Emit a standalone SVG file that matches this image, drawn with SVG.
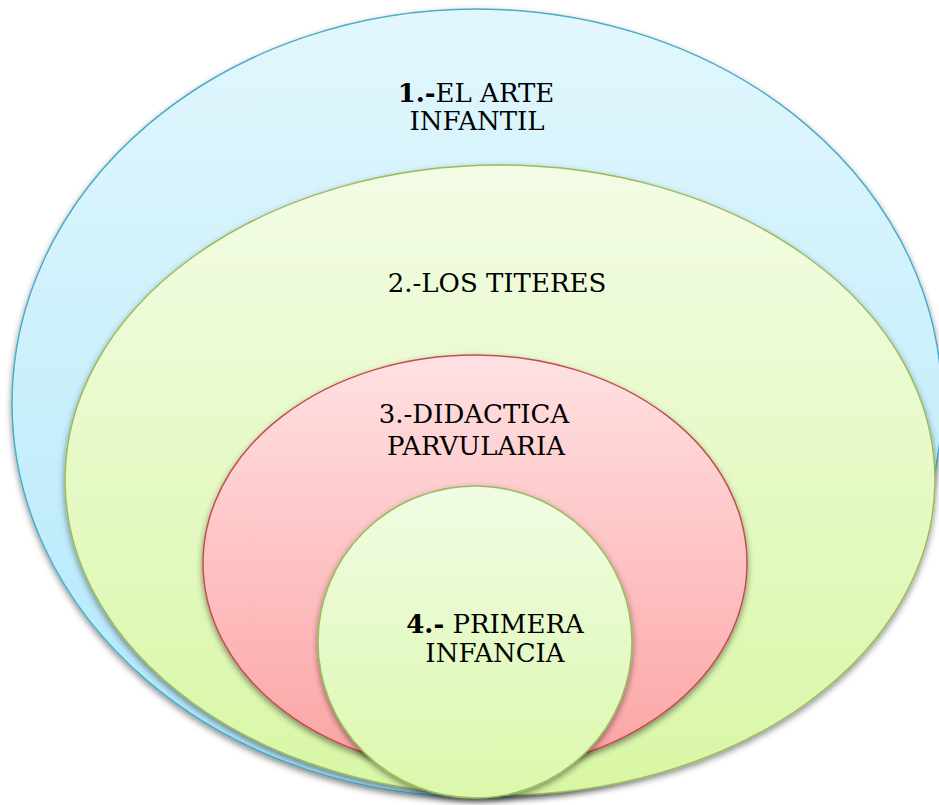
<svg xmlns="http://www.w3.org/2000/svg" width="939" height="805" viewBox="0 0 939 805">
<style>
.t{font-family:"DejaVu Serif",serif;font-size:26px;fill:#000;text-anchor:middle}
.b{font-weight:bold}
.sh{filter:url(#shadow)}
</style>
<defs>
<filter id="shadow" x="-10%" y="-10%" width="120%" height="125%">
<feDropShadow dx="0" dy="3" stdDeviation="3" flood-color="#000" flood-opacity="0.45"/>
</filter>
<linearGradient id="gBlue" x1="0" y1="0" x2="0" y2="1">
<stop offset="0" stop-color="#e2f7fd"/>
<stop offset="1" stop-color="#b0e7fb"/>
</linearGradient>
<linearGradient id="gGreen" x1="0" y1="0" x2="0" y2="1">
<stop offset="0" stop-color="#f3fce6"/>
<stop offset="1" stop-color="#d8f7a4"/>
</linearGradient>
<linearGradient id="gRed" x1="0" y1="0" x2="0" y2="1">
<stop offset="0" stop-color="#ffe1e3"/>
<stop offset="1" stop-color="#fca3a3"/>
</linearGradient>
<linearGradient id="gGreen2" x1="0" y1="0" x2="0" y2="1">
<stop offset="0" stop-color="#f1fce4"/>
<stop offset="1" stop-color="#dbf8ab"/>
</linearGradient>
</defs>
<g id="node1">
<ellipse class="sh" cx="477" cy="403" rx="465" ry="394" fill="url(#gBlue)" stroke="#4bacc6" stroke-width="1.5"/>
</g>
<g id="node2">
<ellipse class="sh" cx="500" cy="480" rx="435" ry="315" fill="url(#gGreen)" stroke="#9bbb59" stroke-width="1.5"/>
</g>
<g id="node3">
<ellipse class="sh" cx="475" cy="563" rx="272" ry="208" fill="url(#gRed)" stroke="#c0504d" stroke-width="1.5"/>
</g>
<g id="node4">
<ellipse class="sh" cx="475" cy="642" rx="157" ry="156" fill="url(#gGreen2)" stroke="#9bbb59" stroke-width="1.5"/>
</g>
<g id="connectors"></g>
<g id="labels">
<text class="t" x="476" y="102"><tspan class="b">1.-</tspan>EL ARTE<tspan x="477" y="130">INFANTIL</tspan></text>
<text class="t" x="497" y="292">2.-LOS TITERES</text>
<text class="t" x="474" y="423">3.-DIDACTICA<tspan x="476" y="455">PARVULARIA</tspan></text>
<text class="t" x="495" y="633"><tspan class="b">4.-</tspan> PRIMERA<tspan x="495" y="662">INFANCIA</tspan></text>
</g>
</svg>
